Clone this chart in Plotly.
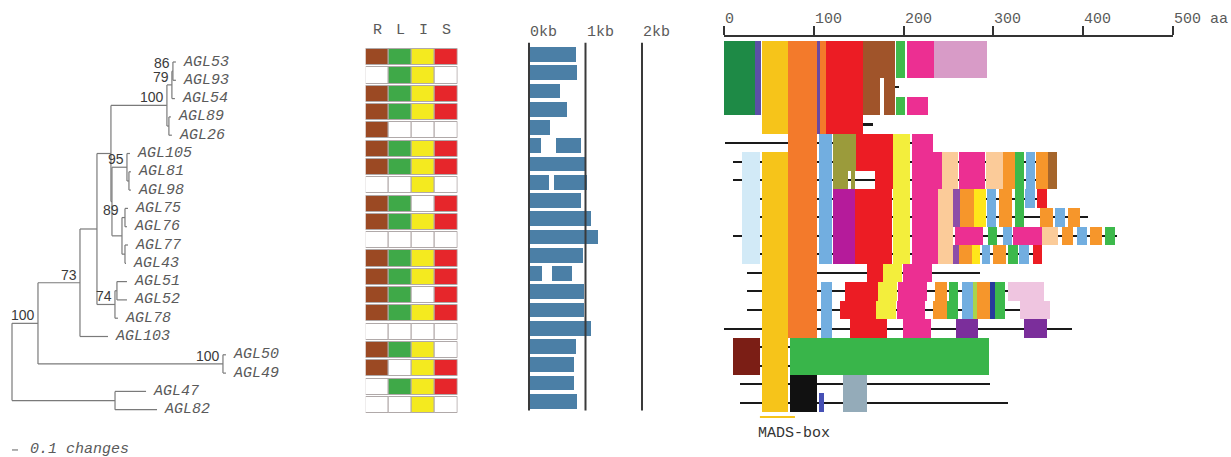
import plotly.graph_objects as go

W, H = 1231, 457

# ------------------------------------------------------------------ data
GENES = ["AGL53", "AGL93", "AGL54", "AGL89", "AGL26", "AGL105", "AGL81", "AGL98",
         "AGL75", "AGL76", "AGL77", "AGL43", "AGL51", "AGL52", "AGL78", "AGL103",
         "AGL50", "AGL49", "AGL47", "AGL82"]

# neighbour-joining tree, branch lengths in changes, bootstrap as node labels
NEWICK = ("((((((((AGL53:0.05,AGL93:0.05)86:0.017,AGL54:0.05)79:0.083,"
          "(AGL89:0.033,AGL26:0.05):0.033)100:0.933,"
          "((AGL105:0.05,(AGL81:0.033,AGL98:0.033):0.033)95:0.25,"
          "((AGL75:0.05,AGL76:0.033):0.05,(AGL77:0.05,AGL43:0.017):0.05)89:0.167):0.017):0.233,"
          "((AGL51:0.167,AGL52:0.167):0.033,AGL78:0.05)74:0.3):0.283,"
          "AGL103:0.467)73:0.7,(AGL50:0.05,AGL49:0.05)100:3.083)100:0.433,"
          "(AGL47:0.517,AGL82:0.7):1.717);")
SCALE_BAR = 0.1

# expression: root, leaf, inflorescence, silique
TISSUES = ["R", "L", "I", "S"]
EXPR_R = [1, 0, 1, 1, 1, 1, 1, 0, 1, 1, 0, 1, 1, 1, 1, 0, 1, 1, 0, 0]
EXPR_L = [1, 1, 1, 1, 0, 1, 1, 0, 1, 1, 0, 1, 1, 1, 1, 0, 1, 0, 1, 0]
EXPR_I = [1, 1, 1, 1, 0, 1, 1, 1, 0, 1, 0, 1, 1, 0, 1, 0, 1, 1, 1, 1]
EXPR_S = [1, 0, 1, 1, 0, 1, 1, 0, 1, 1, 0, 1, 1, 1, 1, 0, 0, 1, 1, 0]

# exon coordinates (kb) per gene
EXONS_KB = [
    [(0, 0.83)], [(0, 0.85)], [(0, 0.56)], [(0, 0.67)], [(0, 0.38)],
    [(0, 0.22), (0.48, 0.93)], [(0, 1.01)], [(0, 0.36), (0.45, 1.04)],
    [(0, 0.93)], [(0, 1.11)], [(0, 1.23)], [(0, 0.96)],
    [(0, 0.24), (0.41, 0.77)], [(0, 0.98)], [(0, 0.98)], [(0, 1.11)],
    [(0, 0.84)], [(0, 0.81)], [(0, 0.81)], [(0, 0.85)],
]
KB_MARKS = [0, 1, 2]

# protein domains: (first_row, last_row, start_aa, end_aa)
AA_TICKS = [0, 100, 200, 300, 400, 500]
MADS_BOX_AA = (40, 79)

N_EXT = [(0, 3, 0, 34.5)]
N_LINK = [(0, 3, 34.5, 41)]
MADS = [(0, 4, 42, 71.3), (6, 19, 42, 71.3)]
I_REGION = [(0, 15, 71.3, 103.6), (0, 4, 107, 113.6)]
I_LINK = [(0, 4, 103.6, 107)]
K_RED = [(0, 4, 113.6, 155), (5, 6, 147, 188), (7, 7, 168, 188), (8, 11, 146, 187),
         (12, 12, 159, 177), (13, 13, 135, 176), (14, 14, 129, 176), (15, 15, 140, 182),
         (8, 8, 349, 360), (11, 11, 344, 354)]
BROWN = [(0, 1, 155, 190.5), (2, 3, 155, 174), (2, 3, 178, 190.5)]
LGREEN = [(0, 1, 191.6, 201.6), (3, 3, 191.6, 201.6)]
PINK = [(0, 1, 204, 234), (3, 3, 204, 227), (5, 5, 209, 233), (6, 7, 209, 243),
        (8, 11, 209, 238), (6, 7, 262, 291), (10, 10, 257, 288.5), (10, 10, 322, 354),
        (12, 12, 199, 232), (13, 13, 194, 226), (14, 14, 193, 224), (15, 15, 199, 230)]
ORCHID = [(0, 1, 234, 293)]
PALE_BLUE = [(6, 11, 20, 40)]
SKY = [(5, 11, 106, 120), (13, 15, 108, 120), (6, 7, 336, 346.5), (8, 9, 293, 303),
       (8, 8, 335, 346), (9, 9, 369, 380), (10, 10, 311, 321), (10, 10, 393, 404),
       (11, 11, 287, 296), (11, 11, 328.6, 340), (13, 14, 265, 277)]
OLIVE = [(5, 6, 121, 147), (7, 7, 121, 138), (7, 7, 141.5, 146)]
MAGENTA = [(8, 11, 121, 146)]
LEMON = [(5, 11, 188.3, 207), (12, 12, 177, 198), (13, 13, 172, 193), (14, 14, 169, 192)]
PEACH = [(6, 7, 243, 261), (8, 11, 238, 255), (6, 7, 292, 311), (10, 10, 354, 372)]
ORANGE = [(6, 7, 311, 324), (6, 7, 347.6, 361), (8, 9, 263, 278.5), (8, 9, 306, 321),
          (9, 9, 352, 366.5), (9, 9, 383, 396.6), (10, 10, 376.5, 389), (10, 10, 407.7, 421),
          (11, 11, 262, 276), (11, 11, 300, 314), (13, 13, 235, 248), (14, 14, 233, 248),
          (13, 14, 282, 296)]
GREEN = [(6, 7, 324, 334), (8, 9, 324, 334), (10, 10, 294, 304), (10, 10, 424.5, 435.6),
         (11, 11, 316, 327.5), (13, 13, 250, 261), (14, 14, 248, 261), (13, 14, 302, 313)]
TAN = [(6, 7, 361, 371)]
VIOLET = [(8, 9, 255, 263), (11, 11, 255, 262)]
BRIGHT_YELLOW = [(8, 9, 278.5, 292), (11, 11, 276, 285)]
YELLOW_GREEN = [(13, 14, 277, 282)]
NAVY = [(13, 14, 296, 302)]
LIGHT_PINK = [(13, 13, 316, 356), (14, 14, 330, 363)]
PURPLE = [(15, 15, 258, 283), (15, 15, 334, 360)]
DARK_RED = [(16, 17, 10, 40)]
C_TERM_GREEN = [(16, 17, 73.5, 295)]
BLACK = [(18, 19, 73.5, 103.6)]
GREY_BLUE = [(18, 19, 132, 159)]
SMALL_BLUE = [(19, 19, 106, 111)]

# unaligned stretches drawn as thin lines: (row, start_aa, end_aa)
GAP_LINES = [(2, 185, 195), (4, 150, 166), (5, 1, 230), (6, 10, 371), (7, 10, 371),
             (8, 40, 360), (9, 40, 405), (10, 10, 438), (11, 40, 354), (12, 26, 285),
             (13, 26, 356), (14, 26, 363), (15, 0, 388), (16, 40, 75), (17, 40, 75),
             (18, 18, 296), (19, 18, 316)]

# ------------------------------------------------------------------ styling
TISSUE_COLORS = ["#9b4923", "#3fa948", "#f4ea1f", "#e6262b"]
DOMAIN_LAYERS = [
    (N_EXT, "#1e8a46"), (N_LINK, "#5b50a6"), (MADS, "#f6c41a"), (I_REGION, "#f37a2b"),
    (I_LINK, "#6a4aa0"), (K_RED, "#ec1c24"), (BROWN, "#a0542a"), (LGREEN, "#3fbb4b"),
    (PINK, "#ec2f92"), (ORCHID, "#d89bc7"), (PALE_BLUE, "#d2eaf7"), (SKY, "#72aee0"),
    (OLIVE, "#9b9b3b"), (MAGENTA, "#b51b9b"), (LEMON, "#f3ee3c"), (PEACH, "#fbcb99"),
    (ORANGE, "#f6962b"), (GREEN, "#3cb94b"), (TAN, "#a5652b"), (VIOLET, "#8c4da8"),
    (BRIGHT_YELLOW, "#ffe61a"), (YELLOW_GREEN, "#a9d44d"), (NAVY, "#273b9c"),
    (LIGHT_PINK, "#efc5e0"), (PURPLE, "#7b2e9b"), (DARK_RED, "#7b1e15"),
    (C_TERM_GREEN, "#39b54a"), (BLACK, "#111111"), (GREY_BLUE, "#94abb9"),
    (SMALL_BLUE, "#4650b5"),
]
# bootstrap label placed near the top of its clade instead of at the node midpoint
BOOT_YSHIFT = {"89": 18}
MONO = "Liberation Mono"
SANS = "Liberation Sans"
TEXT_GREY = "#5a5a5a"


def dom_x(a, b):
    return [a / W, b / W]


def dom_y(top, bottom):
    return [1 - bottom / H, 1 - top / H]


def row_range(top, bottom, centre0, step):
    """Reversed range so that row 0 sits at centre0 px and rows are step px apart."""
    return [(bottom - centre0) / step, (top - centre0) / step]


def paper_y(px):
    return 1 - px / H


# ------------------------------------------------------------------ tree
def parse_newick(text):
    pos = 0

    def read_node():
        nonlocal pos
        node = {"children": [], "label": "", "length": 0.0}
        if text[pos] == "(":
            pos += 1
            while True:
                node["children"].append(read_node())
                ch = text[pos]
                pos += 1
                if ch == ")":
                    break
        start = pos
        while text[pos] not in ",():;":
            pos += 1
        node["label"] = text[start:pos]
        if text[pos] == ":":
            pos += 1
            start = pos
            while text[pos] not in ",();":
                pos += 1
            node["length"] = float(text[start:pos])
        return node

    return read_node()


tree = parse_newick(NEWICK)
tips = []


def place(node, x0):
    node["x"] = x0 + node["length"]
    if node["children"]:
        for child in node["children"]:
            place(child, node["x"])
        node["y"] = (node["children"][0]["y"] + node["children"][-1]["y"]) / 2
    else:
        node["y"] = GENES.index(node["label"])
        tips.append(node)


place(tree, 0.0)

tree_x, tree_y, boots = [], [], []


def collect(node):
    if not node["children"]:
        return
    ys = [c["y"] for c in node["children"]]
    tree_x.extend([node["x"], node["x"], None])
    tree_y.extend([min(ys), max(ys), None])
    for child in node["children"]:
        tree_x.extend([node["x"], child["x"], None])
        tree_y.extend([child["y"], child["y"], None])
        collect(child)
    if node["label"]:
        boots.append((node["x"], node["y"], node["label"]))


collect(tree)

fig = go.Figure()

fig.add_trace(go.Scatter(x=tree_x, y=tree_y, mode="lines",
                         line=dict(color="#7a7a7a", width=1.2),
                         xaxis="x", yaxis="y", hoverinfo="skip", showlegend=False))

scale_row = len(GENES) - 1 + 2.2
fig.add_trace(go.Scatter(x=[0, SCALE_BAR], y=[scale_row, scale_row], mode="lines",
                         line=dict(color="#7a7a7a", width=1.2),
                         xaxis="x", yaxis="y", hoverinfo="skip", showlegend=False))

annotations = []
for tip in tips:
    annotations.append(dict(x=tip["x"], y=tip["y"], xref="x", yref="y",
                            text="<i>%s</i>" % tip["label"], showarrow=False,
                            xanchor="left", yanchor="middle", xshift=5,
                            font=dict(family=MONO, size=15, color=TEXT_GREY)))
for bx, by, label in boots:
    annotations.append(dict(x=bx, y=by, xref="x", yref="y", text=label,
                            showarrow=False, xanchor="right", yanchor="bottom",
                            xshift=-1, yshift=-2 + BOOT_YSHIFT.get(label, 0),
                            font=dict(family=SANS, size=14, color="#3a3a3a")))
annotations.append(dict(x=SCALE_BAR, y=scale_row, xref="x", yref="y",
                        text="<i>0.1 changes</i>", showarrow=False,
                        xanchor="left", yanchor="middle", xshift=10,
                        font=dict(family=MONO, size=15, color=TEXT_GREY)))

# ------------------------------------------------------------------ expression grid
cell_y, cell_base, cell_col = [], [], []
for ci, values in enumerate([EXPR_R, EXPR_L, EXPR_I, EXPR_S]):
    for ri, v in enumerate(values):
        cell_y.append(ri)
        cell_base.append(ci - 0.5)
        cell_col.append(TISSUE_COLORS[ci] if v else "#ffffff")
fig.add_trace(go.Bar(orientation="h", y=cell_y, x=[1] * len(cell_y), base=cell_base,
                     width=0.88, marker=dict(color=cell_col, line=dict(color="#b0a9a9", width=1)),
                     xaxis="x2", yaxis="y2", hoverinfo="skip", showlegend=False))
for ci, t in enumerate(TISSUES):
    annotations.append(dict(x=ci, y=paper_y(30), xref="x2", yref="paper", text=t,
                            showarrow=False, xanchor="center", yanchor="middle",
                            font=dict(family=MONO, size=15, color=TEXT_GREY)))

# ------------------------------------------------------------------ gene structure
ex_y, ex_base, ex_len = [], [], []
for ri, exons in enumerate(EXONS_KB):
    for s, e in exons:
        ex_y.append(ri)
        ex_base.append(s)
        ex_len.append(e - s)
fig.add_trace(go.Bar(orientation="h", y=ex_y, x=ex_len, base=ex_base, width=0.8,
                     marker=dict(color="#4b7fa6", line=dict(width=0)),
                     xaxis="x3", yaxis="y3", hoverinfo="skip", showlegend=False))
kb_x, kb_y = [], []
for k in KB_MARKS:
    kb_x.extend([k, k, None])
    kb_y.extend([-0.65, len(GENES) - 0.5, None])
fig.add_trace(go.Scatter(x=kb_x, y=kb_y, mode="lines", line=dict(color="#3a3a3a", width=2),
                         xaxis="x3", yaxis="y3", hoverinfo="skip", showlegend=False))
for k in KB_MARKS:
    annotations.append(dict(x=k, y=paper_y(32), xref="x3", yref="paper", text="%dkb" % k,
                            showarrow=False, xanchor="left", yanchor="middle", xshift=-1,
                            font=dict(family=MONO, size=15, color=TEXT_GREY)))

# ------------------------------------------------------------------ protein domains
# gap lines are thin bars so that the domain blocks (later bars) sit on top of them
fig.add_trace(go.Bar(orientation="h", y=[g[0] for g in GAP_LINES],
                     x=[g[2] - g[1] for g in GAP_LINES], base=[g[1] for g in GAP_LINES],
                     width=0.11, marker=dict(color="#1a1a1a", line=dict(width=0)),
                     xaxis="x4", yaxis="y4", hoverinfo="skip", showlegend=False))

for spans, color in DOMAIN_LAYERS:
    ys, xs, bases, widths = [], [], [], []
    for r0, r1, s, e in spans:
        ys.append((r0 + r1) / 2)
        widths.append(r1 - r0 + 1)
        bases.append(s)
        xs.append(e - s)
    fig.add_trace(go.Bar(orientation="h", y=ys, x=xs, base=bases, width=widths,
                         marker=dict(color=color, line=dict(width=0)),
                         xaxis="x4", yaxis="y4", hoverinfo="skip", showlegend=False))

mads_row = len(GENES) - 1 + 0.77
fig.add_trace(go.Scatter(x=list(MADS_BOX_AA), y=[mads_row, mads_row], mode="lines",
                         line=dict(color="#f6c41a", width=2),
                         xaxis="x4", yaxis="y4", hoverinfo="skip", showlegend=False))
annotations.append(dict(x=MADS_BOX_AA[0], y=paper_y(433), xref="x4", yref="paper",
                        text="MADS-box", showarrow=False, xanchor="left", yanchor="middle",
                        xshift=-4, font=dict(family=MONO, size=15, color="#333333")))
for t in AA_TICKS:
    annotations.append(dict(x=t, y=paper_y(19), xref="x4", yref="paper",
                            text=("%d aa" % t) if t == AA_TICKS[-1] else str(t),
                            showarrow=False, xanchor="left", yanchor="middle", xshift=-1,
                            font=dict(family=MONO, size=15, color=TEXT_GREY)))

# ------------------------------------------------------------------ layout
hidden = dict(visible=False, fixedrange=True)
fig.update_layout(
    width=W, height=H, margin=dict(l=0, r=0, t=0, b=0),
    paper_bgcolor="white", plot_bgcolor="white", barmode="overlay", bargap=0,
    showlegend=False, annotations=annotations,
    xaxis=dict(domain=dom_x(0, 360), range=[-12 / 60, (360 - 12) / 60], anchor="y", **hidden),
    yaxis=dict(domain=dom_y(0, H), range=row_range(0, H, 62, 18.3), anchor="x", **hidden),
    xaxis2=dict(domain=dom_x(365.7, 457.7), range=[-0.5, 3.5], anchor="y2", **hidden),
    yaxis2=dict(domain=dom_y(0, H), range=row_range(0, H, 57.2, 18.3), anchor="x2", **hidden),
    xaxis3=dict(domain=dom_x(523.35, 647.65), range=[-0.1, 2.1], anchor="y3", **hidden),
    yaxis3=dict(domain=dom_y(0, H), range=row_range(0, H, 54.5, 18.25), anchor="x3", **hidden),
    xaxis4=dict(domain=dom_x(724, 1173), range=[0, 500], anchor="y4", side="top",
                showline=True, linecolor="#333333", linewidth=1.5,
                ticks="outside", ticklen=9, tickwidth=1.5, tickcolor="#333333",
                tickvals=AA_TICKS, showticklabels=False, showgrid=False, zeroline=False,
                fixedrange=True),
    yaxis4=dict(domain=dom_y(37, H), range=row_range(37, H, 50.3, 18.55), anchor="x4", **hidden),
)

fig.write_html("out.html")
